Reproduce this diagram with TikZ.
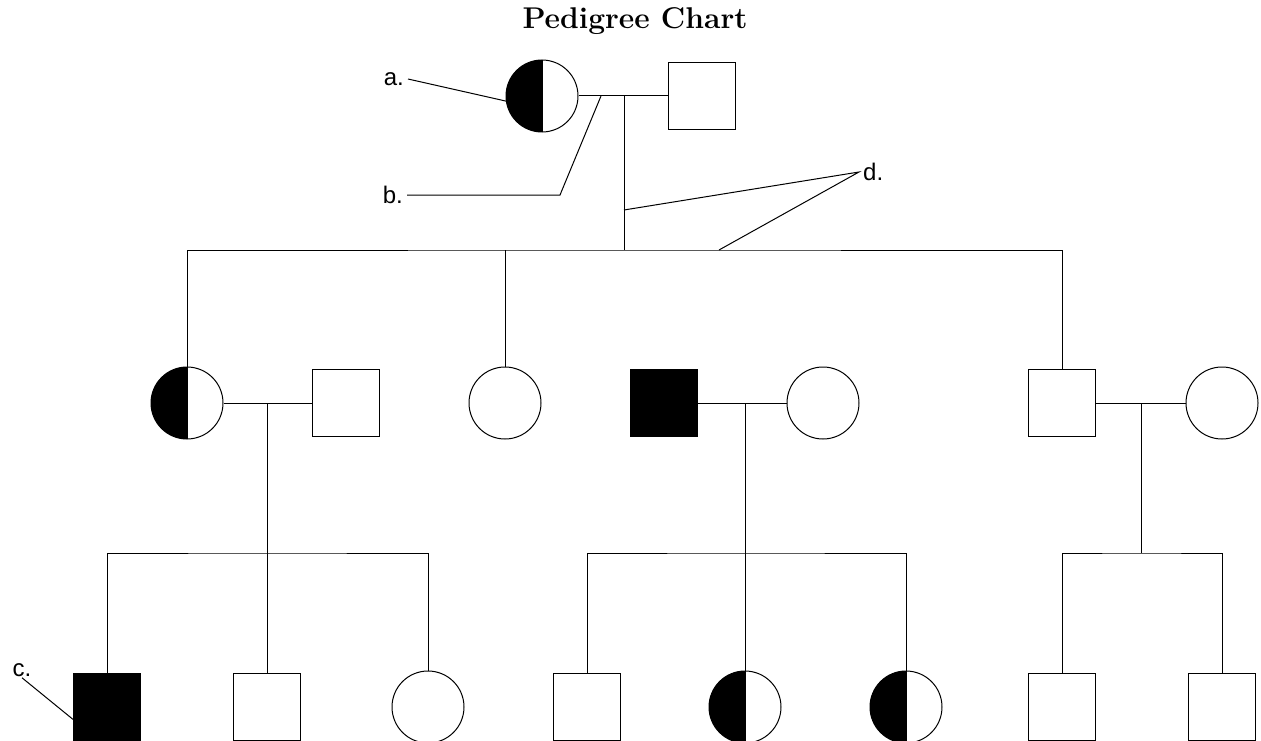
\documentclass[tikz,border=0pt]{standalone}
\usepackage{fontspec}
\newfontfamily\lblfont{Liberation Sans}
\tikzset{
    person/.style={draw, line width=1pt, inner sep=0pt},
    male/.style={person, rectangle, minimum size=67pt},
    female/.style={person, circle, minimum size=72pt},
    affected/.style={fill=black},
    carrier/.style={female, path picture={
        \fill[black] (path picture bounding box.south west) rectangle (path picture bounding box.north);
        \draw[line width=1pt] (path picture bounding box.south) -- (path picture bounding box.north);}},
    lbl/.style={font=\lblfont\fontsize{24}{28}\selectfont, inner sep=4pt},
    link/.style={line width=1pt}
}
\begin{document}
\begin{tikzpicture}[x=1pt, y=-1pt]
    \useasboundingbox (0,0) rectangle (1261,741);

    % Title
    \node[font=\fontsize{30}{36}\selectfont\bfseries] (title) at (635,21) {Pedigree Chart};

    % Generation I
    \node[carrier] (mI) at (542,96) {};
    \node[male] (fI) at (702,96) {};
    \coordinate (cI) at (624,96);
    \coordinate (sibI) at (624,250);
    \draw[link] (mI.east) -- (fI.west);
    \draw[link] (cI) -- (sibI);

    % Generation II
    \node[carrier] (k1) at (187,403) {};
    \node[male] (sp1) at (346,403) {};
    \node[female] (k2) at (505,403) {};
    \node[male, affected] (sp3) at (664,403) {};
    \node[female] (k3) at (823,403) {};
    \node[male] (k4) at (1062,403) {};
    \node[female] (sp4) at (1222,403) {};
    \draw[link] (k1.north) |- (sibI) -| (k4.north);
    \draw[link] (k2.north) -- (k2.north |- sibI);

    % couples of generation II
    \coordinate (c1) at (267,403);
    \coordinate (c3) at (745,403);
    \coordinate (c4) at (1141,403);
    \coordinate (sib1) at (267,553);
    \coordinate (sib3) at (745,553);
    \coordinate (sib4) at (1141,553);
    \draw[link] (k1.east) -- (sp1.west);
    \draw[link] (sp3.east) -- (k3.west);
    \draw[link] (k4.east) -- (sp4.west);
    \foreach \c in {1,3,4} {
        \draw[link] (c\c) -- (sib\c);
    }

    % Generation III
    \node[male, affected] (g1) at (107,707) {};
    \node[male] (g2) at (267,707) {};
    \node[female] (g3) at (428,707) {};
    \node[male] (g4) at (587,707) {};
    \node[carrier] (g5) at (745,707) {};
    \node[carrier] (g6) at (906,707) {};
    \node[male] (g7) at (1062,707) {};
    \node[male] (g8) at (1222,707) {};
    \draw[link] (g1.north) |- (sib1) -| (g3.north);
    \draw[link] (g2.north) -- (sib1);
    \draw[link] (g4.north) |- (sib3) -| (g6.north);
    \draw[link] (g5.north) -- (sib3);
    \draw[link] (g7.north) |- (sib4) -| (g8.north);

    % Labels
    \node[lbl, anchor=east] (la) at (408,79) {a.};
    \draw[link] (la.east) -- (mI.188);

    \node[lbl, anchor=east] (lb) at (407,195) {b.};
    \coordinate (bk) at (560,195);
    \coordinate (bm) at (601,96);
    \draw[link] (lb.east) -- (bk) -- (bm);

    \node[lbl, inner sep=1pt] (lc) at (22,670) {c.};
    \draw[link] (lc.south) -- (g1.200);

    \node[lbl, anchor=west] (ld) at (859,172) {d.};
    \coordinate (dI) at (624,210);
    \coordinate (dII) at (719,250);
    \draw[link] (dI) -- (ld.west) -- (dII);
\end{tikzpicture}
\end{document}
